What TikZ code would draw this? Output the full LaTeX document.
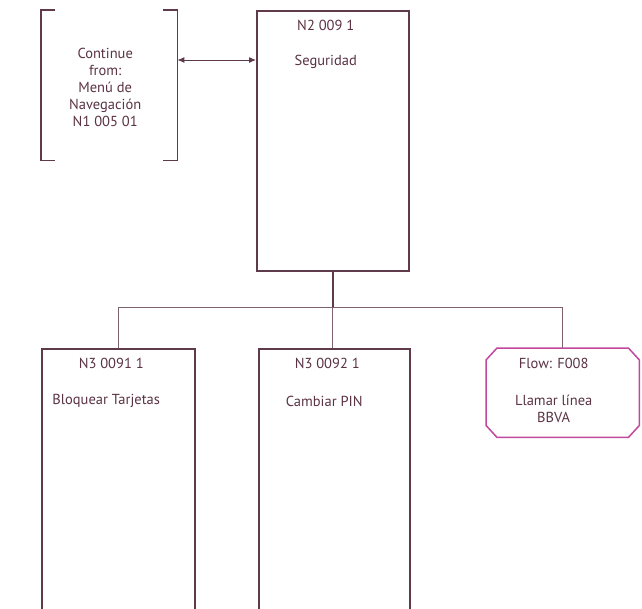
\documentclass[tikz,border=0pt]{standalone}
\usepackage{fontspec}
\setmainfont{PT Sans}
\usetikzlibrary{arrows.meta}
\definecolor{wine}{HTML}{5E3A4A}
\definecolor{winetext}{HTML}{5A3344}
\definecolor{flowpink}{HTML}{C2489E}

\tikzset{
  screen/.style={draw=wine,line width=1.5pt,fill=white,anchor=north west,inner sep=0pt},
  lbl/.style={text=winetext,font=\fontsize{14.5}{17}\selectfont,align=center},
  link/.style={draw=wine!80,line width=0.8pt}
}

\begin{document}
\begin{tikzpicture}[x=1pt,y=-1pt]
\clip (0,0) rectangle (642,608);
\fill[white] (0,0) rectangle (642,608);

% continue-from bracket
\node[anchor=north west,minimum width=136pt,minimum height=150pt,inner sep=0pt] (cont) at (41,10) {};
\draw[wine,line width=1.5pt] ([xshift=14pt]cont.north west) -- (cont.north west) -- (cont.south west) -- ([xshift=14pt]cont.south west);
\draw[wine,line width=1.5pt] ([xshift=-14pt]cont.north east) -- (cont.north east) -- (cont.south east) -- ([xshift=-14pt]cont.south east);
\node[lbl] at ([xshift=-4pt,yshift=-2pt]cont.center) {Continue\\from:\\Menú de\\Navegación\\N1 005 01};

% main screen
\node[screen,minimum width=152pt,minimum height=260pt] (seg) at (256,10) {};
\node[lbl] at ([xshift=-7pt,yshift=-15pt]seg.north) {N2 009 1};
\node[lbl] at ([xshift=-7pt,yshift=-52pt]seg.north) {Seguridad};

\draw[wine,line width=1pt,{Latex[length=7pt,width=6pt]}-{Latex[length=7pt,width=6pt]}] (cont.east |- 0,60) -- (seg.west |- 0,60);

% children
\node[screen,minimum width=153pt,minimum height=280pt] (bloq) at (41,348) {};
\node[lbl] at ([xshift=-7pt,yshift=-15pt]bloq.north) {N3 0091 1};
\node[lbl] at ([xshift=-12pt,yshift=-53pt]bloq.north) {Bloquear Tarjetas};

\node[screen,minimum width=151pt,minimum height=280pt] (pin) at (258,348) {};
\node[lbl] at ([xshift=-7pt,yshift=-15pt]pin.north) {N3 0092 1};
\node[lbl] at ([xshift=-10pt,yshift=-53pt]pin.north) {Cambiar PIN};

\node[anchor=north west,minimum width=153pt,minimum height=89pt,inner sep=0pt] (flow) at (486,348) {};
\draw[flowpink,line width=1.5pt,fill=white]
  ([xshift=11pt]flow.north west) -- ([xshift=-11pt]flow.north east) -- ([yshift=-12pt]flow.north east)
  -- ([yshift=12pt]flow.south east) -- ([xshift=-11pt]flow.south east) -- ([xshift=11pt]flow.south west)
  -- ([yshift=12pt]flow.south west) -- ([yshift=-12pt]flow.north west) -- cycle;
\node[lbl] at ([xshift=-9pt,yshift=-15pt]flow.north) {Flow: F008};
\node[lbl] at ([xshift=-9pt,yshift=-61pt]flow.north) {Llamar línea\\BBVA};

% tree connectors
\coordinate (fork) at (seg.south |- 0,307);
\draw[wine,line width=1.5pt] (seg.south) -- (fork);
\draw[link] (bloq.north -| 118,0) -- (118,307) -- (562,307) -- (flow.north -| 562,0);
\draw[link] (fork) -- (fork |- pin.north);
\end{tikzpicture}
\end{document}
